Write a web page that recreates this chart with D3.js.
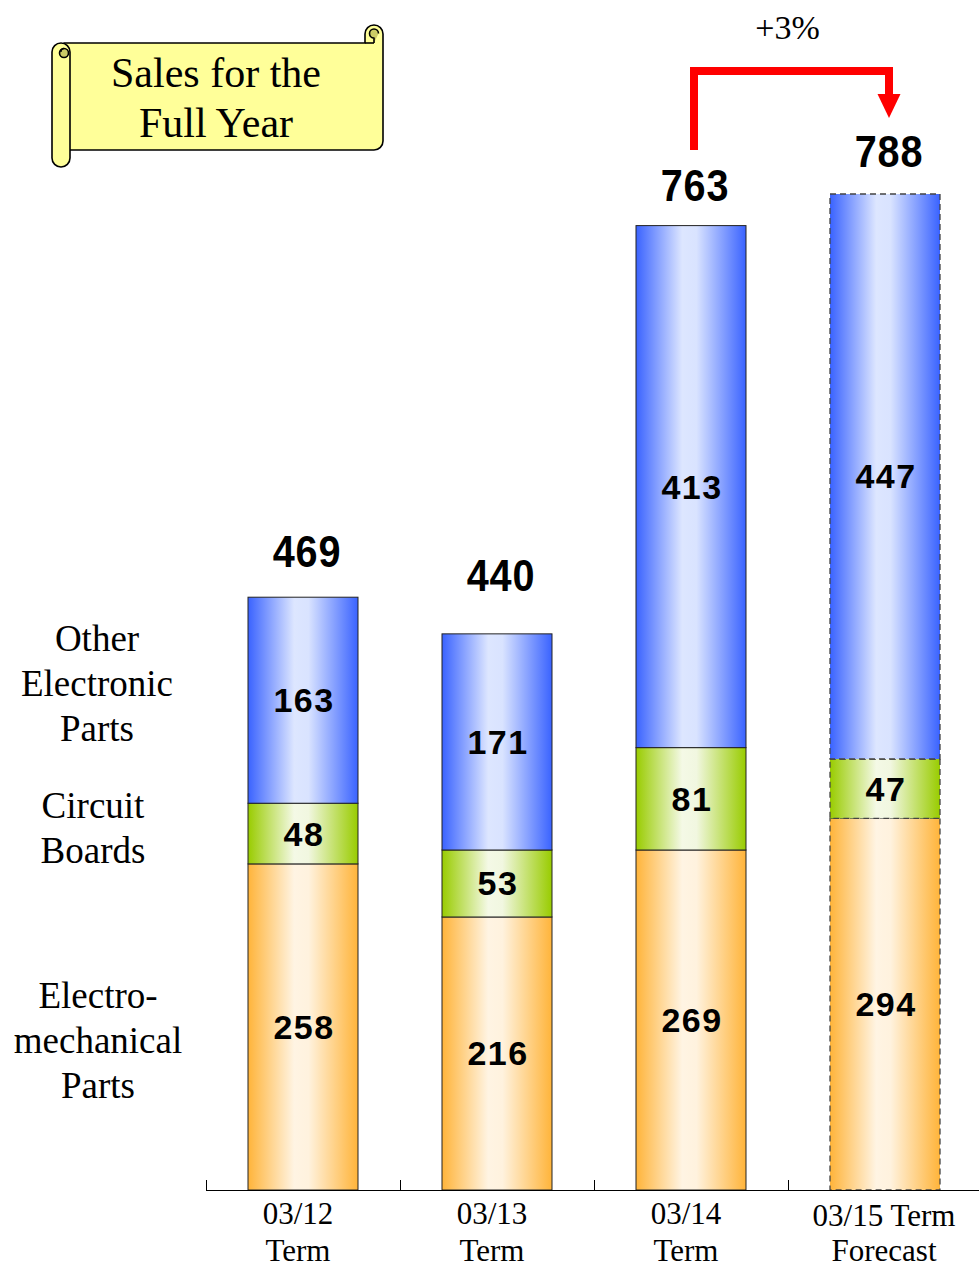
<!DOCTYPE html>
<html>
<head>
<meta charset="utf-8">
<script src="https://cdn.jsdelivr.net/npm/d3@7"></script>
<style>
  html, body { margin: 0; padding: 0; background: #fff; }
  svg { display: block; }
</style>
</head>
<body>
<svg id="chart" width="979" height="1269"></svg>
<script>
// Fiscal terms (x axis), two-line labels
const terms = ["03/12 Term", "03/13 Term", "03/14 Term", "03/15 Term Forecast"];
const termLines = [["03/12", "Term"], ["03/13", "Term"], ["03/14", "Term"], ["03/15 Term", "Forecast"]];

// Sales by segment (bottom to top of each stack)
const electromechanical = [258, 216, 269, 294];
const circuitBoards = [48, 53, 81, 47];
const otherElectronic = [163, 171, 413, 447];
const totals = [469, 440, 763, 788];

const segmentKeys = ["electromechanical", "circuitBoards", "otherElectronic"];
const segmentNames = [["Electro-", "mechanical", "Parts"], ["Circuit", "Boards"], ["Other", "Electronic", "Parts"]];
const forecastIndex = 3;
const growthLabel = "+3%";
const titleLines = ["Sales for the", "Full Year"];

const rows = terms.map((t, i) => ({
  term: t,
  electromechanical: electromechanical[i],
  circuitBoards: circuitBoards[i],
  otherElectronic: otherElectronic[i],
  total: totals[i]
}));

const svg = d3.select("#chart");
const serif = "'Liberation Serif', 'Times New Roman', Times, serif";
const sans = "'Liberation Sans', Arial, Helvetica, sans-serif";

const baseY = 1190;
const x = d3.scaleBand().domain(terms).range([206, 982]).paddingInner(0.433).paddingOuter(0.2165);
const y = d3.scaleLinear().domain([0, 788]).range([baseY, 194]);

// Horizontal shading gradients for each segment
const defs = svg.append("defs");
const grads = {
  electromechanical: ["#FFB43A", "#FFF4E3", "#FFF2DE", "#FFB43A"],
  circuitBoards: ["#99CC00", "#F4F9E6", "#F1F7E0", "#99CC00"],
  otherElectronic: ["#3A63FF", "#DDE6FF", "#D9E3FF", "#3A63FF"]
};
Object.entries(grads).forEach(([k, c]) => {
  const g = defs.append("linearGradient").attr("id", "g-" + k)
    .attr("x1", 0).attr("x2", 1).attr("y1", 0).attr("y2", 0);
  g.append("stop").attr("offset", "0%").attr("stop-color", c[0]);
  g.append("stop").attr("offset", "42%").attr("stop-color", c[1]);
  g.append("stop").attr("offset", "55%").attr("stop-color", c[2]);
  g.append("stop").attr("offset", "100%").attr("stop-color", c[3]);
});

// Stacked bars
const stacked = d3.stack().keys(segmentKeys)(rows);
const layers = svg.append("g").selectAll("g").data(stacked).join("g");
layers.selectAll("rect")
  .data(d => d.map(v => ({ key: d.key, v, term: v.data.term })))
  .join("rect")
  .attr("x", d => x(d.term))
  .attr("width", x.bandwidth())
  .attr("y", d => y(d.v[1]))
  .attr("height", d => y(d.v[0]) - y(d.v[1]))
  .attr("fill", d => `url(#g-${d.key})`)
  .attr("stroke", (d) => terms.indexOf(d.term) === forecastIndex ? "#444" : "#222")
  .attr("stroke-width", (d) => terms.indexOf(d.term) === forecastIndex ? 1.3 : 1)
  .attr("stroke-dasharray", (d) => terms.indexOf(d.term) === forecastIndex ? "6,4" : null);

// Segment value labels
layers.selectAll("text")
  .data(d => d.map(v => ({ key: d.key, v, term: v.data.term })))
  .join("text")
  .attr("x", d => x(d.term) + x.bandwidth() / 2 + 1)
  .attr("y", d => (y(d.v[0]) + y(d.v[1])) / 2 + 12)
  .attr("text-anchor", "middle")
  .attr("font-family", sans)
  .attr("font-weight", "bold")
  .attr("font-size", 34)
  .attr("letter-spacing", 1.5)
  .attr("fill", "#000")
  .text(d => d.v.data[d.key]);

// Totals above each bar
const totalNudge = [30, 43, 25, 27];
svg.append("g").selectAll("text").data(rows).join("text")
  .attr("transform", (d, i) => `translate(${x(d.term) + x.bandwidth() / 2 + 4},${y(d.total) - totalNudge[i]}) scale(0.9,1)`)
  .attr("text-anchor", "middle")
  .attr("font-family", sans)
  .attr("font-weight", "bold")
  .attr("font-size", 44)
  .attr("letter-spacing", 1)
  .attr("fill", "#000")
  .text(d => d.total);

// Baseline with category separator ticks
const axisG = svg.append("g");
axisG.append("line")
  .attr("x1", 206).attr("x2", 979).attr("y1", baseY + 0.5).attr("y2", baseY + 0.5)
  .attr("stroke", "#000").attr("stroke-width", 1.2);
const half = x.step() * x.paddingInner() / 2;
axisG.selectAll("line.tick").data(terms).join("line").attr("class", "tick")
  .attr("x1", d => Math.round(x(d) - half) + 0.5)
  .attr("x2", d => Math.round(x(d) - half) + 0.5)
  .attr("y1", baseY - 10).attr("y2", baseY)
  .attr("stroke", "#000").attr("stroke-width", 1);

// Term labels
const tl = axisG.selectAll("text").data(terms).join("text")
  .attr("text-anchor", "middle")
  .attr("font-family", serif)
  .attr("font-size", 31)
  .attr("fill", "#000");
tl.each(function (d, i) {
  const t = d3.select(this);
  const cx = x(d) + x.bandwidth() / 2 - (i === forecastIndex ? 1 : 5);
  const y0 = i === forecastIndex ? 1226 : 1224;
  const gap = i === forecastIndex ? 35 : 37;
  termLines[i].forEach((line, j) => {
    t.append("tspan").attr("x", cx).attr("y", y0 + j * gap).text(line);
  });
});

// Segment names on the left, level with the first bar's segments
const nameX = [98, 93, 97];
const nameYs = [1008, 818, 651];
segmentNames.forEach((lines, k) => {
  const t = svg.append("text")
    .attr("text-anchor", "middle")
    .attr("font-family", serif)
    .attr("font-size", 37)
    .attr("fill", "#000");
  lines.forEach((line, j) => {
    t.append("tspan").attr("x", nameX[k]).attr("y", nameYs[k] + j * 45).text(line);
  });
});

// Growth arrow from the latest result to the forecast
const xa = x(terms[2]) + x.bandwidth() / 2 + 3;
const xb = x(terms[3]) + x.bandwidth() / 2 + 4;
const arrowTop = 71;
svg.append("path")
  .attr("d", `M${xa},150 V${arrowTop} H${xb} V96`)
  .attr("fill", "none")
  .attr("stroke", "#FF0000")
  .attr("stroke-width", 8)
  .attr("stroke-linejoin", "miter");
svg.append("path")
  .attr("d", `M${xb - 11.5},94 H${xb + 11.5} L${xb},118 Z`)
  .attr("fill", "#FF0000");
svg.append("text")
  .attr("x", (xa + xb) / 2 - 4)
  .attr("y", 39)
  .attr("text-anchor", "middle")
  .attr("font-family", serif)
  .attr("font-size", 34)
  .attr("fill", "#000")
  .text(growthLabel);

// Title on a scroll banner
const scroll = svg.append("g")
  .attr("fill", "#FFFF99")
  .attr("stroke", "#000")
  .attr("stroke-width", 1.6)
  .attr("stroke-linejoin", "round");
// banner body with the curled top-right corner
scroll.append("path")
  .attr("d", "M64,43 H365 V34 A9,9 0 0 1 383,34 V141 A9,9 0 0 1 374,150 H64 Z");
// inner curl of the top-right corner
scroll.append("path")
  .attr("d", "M374,43 V38 A4.5,4.5 0 0 1 374,29 A4.5,4.5 0 0 1 378.5,33.5")
  .attr("fill", "#CCCC66");
scroll.append("path")
  .attr("d", "M365,43 H374")
  .attr("fill", "none");
// left roll
scroll.append("path")
  .attr("d", "M52,52 A9,9 0 0 1 70,52 V158 A9,9 0 0 1 52,158 Z");
scroll.append("circle")
  .attr("cx", 64).attr("cy", 53).attr("r", 4.5)
  .attr("fill", "#CCCC66");
scroll.append("path")
  .attr("d", "M61,52 A3,3 0 0 1 64,48.5")
  .attr("fill", "none");

const title = svg.append("text")
  .attr("text-anchor", "middle")
  .attr("font-family", serif)
  .attr("font-size", 42)
  .attr("fill", "#000");
titleLines.forEach((line, j) => {
  title.append("tspan").attr("x", 216).attr("y", 87 + j * 50).text(line);
});
</script>
</body>
</html>
